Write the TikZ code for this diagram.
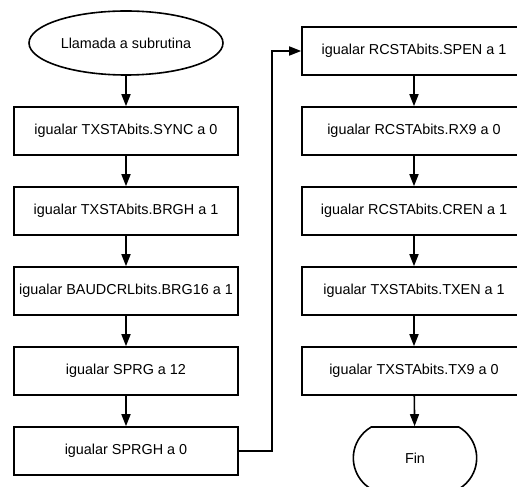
\documentclass[tikz,border=0pt]{standalone}
\usepackage{fontspec}
\setmainfont{Liberation Sans}
\usetikzlibrary{arrows.meta,shapes.geometric,shapes.misc}
\begin{document}
\begin{tikzpicture}[x=1pt,y=1pt,line width=1.6pt,font=\fontsize{14.4}{17}\selectfont,
  paso/.style={draw,rectangle,minimum width=224pt,minimum height=48pt,inner sep=2pt},
  inicio/.style={draw,ellipse,minimum width=192pt,minimum height=64pt},
  fin/.style={draw,rounded rectangle,rounded rectangle arc length=120,minimum width=130pt,minimum height=62pt},
  flecha/.style={-{Triangle[length=12pt,width=9pt]}}]
\useasboundingbox (0,0) rectangle (517,487);

% columna izquierda
\node[inicio] (ini) at (126,444) {Llamada a subrutina};
\node[paso] (sync) at (126,356) {igualar TXSTAbits.SYNC a 0};
\node[paso] (brgh) at (126,276) {igualar TXSTAbits.BRGH a 1};
\node[paso] (brg16) at (126,196) {igualar BAUDCRLbits.BRG16 a 1};
\node[paso] (sprg) at (126,116) {igualar SPRG a 12};
\node[paso] (sprgh) at (126,36) {igualar SPRGH a 0};

% columna derecha
\node[paso] (spen) at (414,436) {igualar RCSTAbits.SPEN a 1};
\node[paso] (rx9) at (414,356) {igualar RCSTAbits.RX9 a 0};
\node[paso] (cren) at (414,276) {igualar RCSTAbits.CREN a 1};
\node[paso] (txen) at (414,196) {igualar TXSTAbits.TXEN a 1};
\node[paso] (tx9) at (414,116) {igualar TXSTAbits.TX9 a 0};
\node[fin] (fin) at (415,29) {Fin};

\draw[flecha] (ini) -- (sync);
\draw[flecha] (sync) -- (brgh);
\draw[flecha] (brgh) -- (brg16);
\draw[flecha] (brg16) -- (sprg);
\draw[flecha] (sprg) -- (sprgh);
\draw[flecha] (sprgh.east) -- ++(33,0) |- (spen.west);
\draw[flecha] (spen) -- (rx9);
\draw[flecha] (rx9) -- (cren);
\draw[flecha] (cren) -- (txen);
\draw[flecha] (txen) -- (tx9);
\draw[flecha] (tx9) -- (fin);
\end{tikzpicture}
\end{document}
